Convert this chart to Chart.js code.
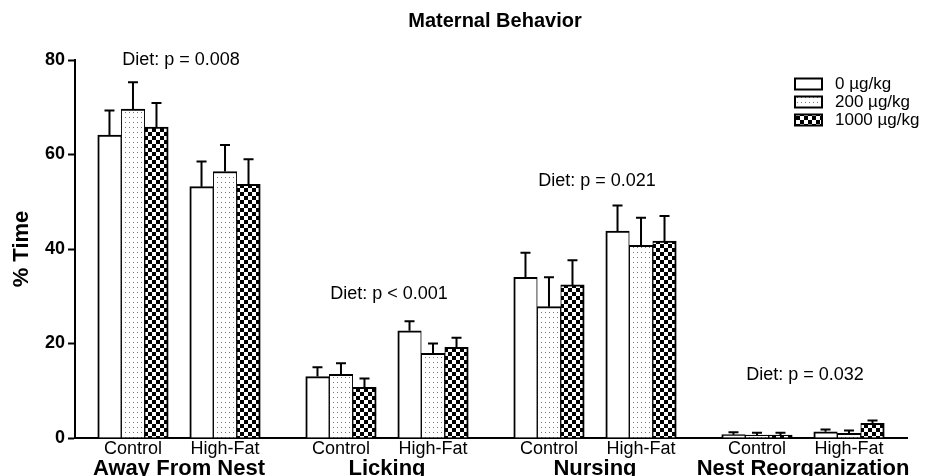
<!DOCTYPE html>
<html>
<head>
<meta charset="utf-8">
<script src="https://cdn.jsdelivr.net/npm/chart.js@4/dist/chart.umd.min.js"></script>
<style>
  html, body { margin: 0; padding: 0; background: #fff; }
  canvas { display: block; }
</style>
</head>
<body>
<canvas id="chart" width="933" height="476"></canvas>
<script>
// Behaviours scored, each split by diet
const behaviors = ['Away From Nest', 'Licking', 'Nursing', 'Nest Reorganization'];
const diets = ['Control', 'High-Fat'];
const doses = ['0 µg/kg', '200 µg/kg', '1000 µg/kg'];

// Mean % time, ordered behaviour x diet (Control, High-Fat)
const dose0    = [64.1, 53.2, 13.0, 22.7, 34.0, 43.8, 0.7, 1.3];
const dose200  = [69.6, 56.4, 13.5, 17.9, 27.8, 40.8, 0.6, 1.0];
const dose1000 = [65.8, 53.7, 10.7, 19.2, 32.4, 41.7, 0.6, 3.1];

// SEM, same ordering
const sem0    = [5.2, 5.3, 2.0, 2.0, 5.2, 5.4, 0.5, 0.5];
const sem200  = [5.7, 5.6, 2.3, 2.1, 6.2, 5.8, 0.5, 0.6];
const sem1000 = [5.1, 5.3, 1.9, 2.0, 5.2, 5.3, 0.5, 0.6];

// Diet main-effect statistics per behaviour, and the y level they sit at
const dietStats = ['Diet: p = 0.008', 'Diet: p < 0.001', 'Diet: p = 0.021', 'Diet: p = 0.032'];
const dietStatY = [80, 30.5, 54.4, 13.3];

const yTicks = [0, 20, 40, 60, 80];

// x position of each diet column; behaviours are separated by a wider gap
const GROUP_STEP = 2.26;
const xPos = [];
behaviors.forEach((b, g) => diets.forEach((d, k) => xPos.push(g * GROUP_STEP + k)));

const FONT = '"Liberation Sans", Arial, Helvetica, sans-serif';
Chart.defaults.font.family = FONT;
Chart.defaults.color = '#000';

function makePattern(w, h, paint) {
  const c = document.createElement('canvas');
  c.width = w; c.height = h;
  const g = c.getContext('2d');
  paint(g);
  return g.createPattern(c, 'repeat');
}
const plainFill = '#ffffff';
const dotFill = makePattern(4, 5, g => {
  g.fillStyle = '#fff'; g.fillRect(0, 0, 4, 5);
  g.fillStyle = '#777'; g.fillRect(1, 2, 1, 1);
});
const checkFill = makePattern(8, 8, g => {
  g.fillStyle = '#fff'; g.fillRect(0, 0, 8, 8);
  g.fillStyle = '#000'; g.fillRect(0, 0, 4, 4); g.fillRect(4, 4, 4, 4);
});

const seriesValues = [dose0, dose200, dose1000];
const seriesErrors = [sem0, sem200, sem1000];
const seriesFills = [plainFill, dotFill, checkFill];
// shared edges between adjacent bars stay one line thick
const seriesBorders = [
  { top: 2, left: 2, right: 1, bottom: 0 },
  { top: 2, left: 1, right: 1, bottom: 0 },
  { top: 2, left: 1, right: 2, bottom: 0 }
];

const datasets = doses.map((name, i) => ({
  label: name,
  data: seriesValues[i].map((v, j) => ({ x: xPos[j], y: v })),
  errors: seriesErrors[i],
  backgroundColor: seriesFills[i],
  borderColor: '#000',
  borderWidth: seriesBorders[i],
  borderSkipped: false,
  barThickness: 23.5
}));

// SEM whiskers (upper only) with caps
const errorBars = {
  id: 'errorBars',
  afterDatasetsDraw(chart) {
    const ctx = chart.ctx;
    const y = chart.scales.y;
    ctx.save();
    ctx.strokeStyle = '#000';
    ctx.lineWidth = 2;
    chart.data.datasets.forEach((ds, i) => {
      const meta = chart.getDatasetMeta(i);
      meta.data.forEach((el, j) => {
        const top = y.getPixelForValue(ds.data[j].y + ds.errors[j]);
        ctx.beginPath();
        ctx.moveTo(el.x, el.y);
        ctx.lineTo(el.x, top);
        ctx.moveTo(el.x - 5, top);
        ctx.lineTo(el.x + 5, top);
        ctx.stroke();
      });
    });
    ctx.restore();
  }
};

// Title, behaviour names, statistics and the legend key
const annotations = {
  id: 'annotations',
  afterDraw(chart) {
    const ctx = chart.ctx;
    const xs = chart.scales.x, ys = chart.scales.y;
    const area = chart.chartArea;
    ctx.save();
    ctx.fillStyle = '#000';

    ctx.font = 'bold 20px ' + FONT;
    ctx.textAlign = 'center';
    ctx.textBaseline = 'alphabetic';
    ctx.fillText('Maternal Behavior', (area.left + area.right) / 2 + 4, 27);

    behaviors.forEach((b, g) => {
      const cx = xs.getPixelForValue(g * GROUP_STEP + 0.5);
      ctx.font = 'bold 22px ' + FONT;
      ctx.textBaseline = 'alphabetic';
      ctx.fillText(b, cx, 475);
      ctx.font = '18px ' + FONT;
      ctx.textBaseline = 'middle';
      ctx.fillText(dietStats[g], cx + 2, ys.getPixelForValue(dietStatY[g]));
    });

    // legend key
    const lx = 795, lw = 27, lh = 11;
    ctx.font = '17px ' + FONT;
    ctx.textAlign = 'left';
    ctx.textBaseline = 'middle';
    doses.forEach((d, i) => {
      const cy = 84 + i * 18;
      ctx.fillStyle = seriesFills[i];
      ctx.fillRect(lx, cy - lh / 2, lw, lh);
      ctx.strokeStyle = '#000';
      ctx.lineWidth = 2;
      ctx.strokeRect(lx, cy - lh / 2, lw, lh);
      ctx.fillStyle = '#000';
      ctx.fillText(d, 835, cy);
    });
    ctx.restore();
  }
};

new Chart(document.getElementById('chart'), {
  type: 'bar',
  data: { datasets },
  options: {
    responsive: false,
    devicePixelRatio: 1,
    animation: false,
    layout: { padding: { top: 60, right: 26, bottom: 0, left: 0 } },
    plugins: { legend: { display: false }, tooltip: { enabled: false }, title: { display: false } },
    scales: {
      x: {
        type: 'linear',
        offset: false,
        min: -0.63,
        max: 8.41,
        afterFit(scale) { scale.height = 38; },
        afterBuildTicks(scale) { scale.ticks = xPos.map(v => ({ value: v })); },
        ticks: {
          autoSkip: false,
          maxRotation: 0,
          padding: 0,
          font: { size: 18 },
          callback: (v, i) => diets[i % diets.length]
        },
        grid: { display: true, offset: false, drawOnChartArea: false, drawTicks: false },
        border: { display: true, color: '#000', width: 2 }
      },
      y: {
        min: 0,
        max: 80,
        afterFit(scale) { scale.width = 75; },
        afterBuildTicks(scale) { scale.ticks = yTicks.map(v => ({ value: v })); },
        ticks: { padding: 3, font: { size: 18, weight: 'bold' } },
        grid: {
          display: true, drawOnChartArea: false, drawTicks: true,
          tickLength: 7, tickWidth: 2, tickColor: '#000'
        },
        border: { display: true, color: '#000', width: 2 },
        title: {
          display: true,
          text: '% Time',
          font: { size: 22, weight: 'bold' },
          padding: { top: 9, bottom: 0 }
        }
      }
    }
  },
  plugins: [errorBars, annotations]
});
</script>
</body>
</html>
